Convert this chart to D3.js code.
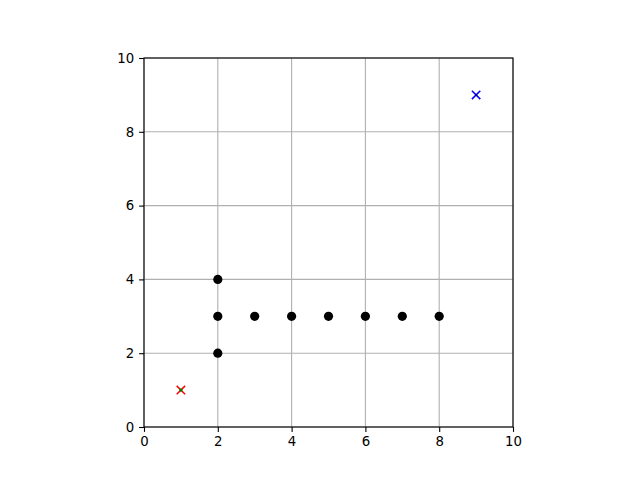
<!DOCTYPE html>
<html><head><meta charset="utf-8">
<script src="https://d3js.org/d3.v7.min.js"></script>
<style>body{margin:0;background:#fff}svg{display:block}</style>
</head><body>
<script>
const ticks = [0, 2, 4, 6, 8, 10];
const dotX = [2, 2, 2, 3, 4, 5, 6, 7, 8];
const dotY = [4, 3, 2, 3, 3, 3, 3, 3, 3];
const startPt = [1, 1];
const goalPt = [9, 9];

const W = 640, H = 480;
const L = 144, R = 513, T = 58, B = 427;
const svg = d3.select("body").append("svg").attr("width", W).attr("height", H);
const x = d3.scaleLinear().domain([0, 10]).range([L, R]);
const y = d3.scaleLinear().domain([0, 10]).range([B, T]);
const font = "DejaVu Sans, sans-serif";

// grid
const g = svg.append("g");
g.selectAll(".gx").data(ticks).enter().append("line")
  .attr("x1", d => x(d)).attr("x2", d => x(d)).attr("y1", T).attr("y2", B)
  .attr("stroke", "#b0b0b0").attr("stroke-width", 1.1);
g.selectAll(".gy").data(ticks).enter().append("line")
  .attr("y1", d => y(d)).attr("y2", d => y(d)).attr("x1", L).attr("x2", R)
  .attr("stroke", "#b0b0b0").attr("stroke-width", 1.1);

// axes
const xa = svg.append("g").attr("transform", `translate(0,${B})`)
  .call(d3.axisBottom(x).tickValues(ticks).tickSize(4.9).tickPadding(4.9).tickFormat(d3.format("d")));
const ya = svg.append("g").attr("transform", `translate(${L},0)`)
  .call(d3.axisLeft(y).tickValues(ticks).tickSize(4.9).tickPadding(4.9).tickFormat(d3.format("d")));
[xa, ya].forEach(a => {
  a.select(".domain").remove();
  a.selectAll("line").attr("stroke", "#000").attr("stroke-width", 1.1);
  a.selectAll("text").attr("font-family", font).attr("font-size", "13.3px").attr("fill", "#000");
});

// frame
svg.append("rect").attr("x", L).attr("y", T).attr("width", R - L).attr("height", B - T)
  .attr("fill", "none").attr("stroke", "#000").attr("stroke-width", 1.1);

// dots
svg.selectAll(".dot").data(dotX.map((d, i) => [d, dotY[i]])).enter().append("circle")
  .attr("cx", d => x(d[0])).attr("cy", d => y(d[1])).attr("r", 4.6).attr("fill", "#000");

function cross(p, color) {
  const cx = x(p[0]), cy = y(p[1]), s = 4.2;
  svg.append("path").attr("d", `M${cx - s},${cy - s}L${cx + s},${cy + s}M${cx - s},${cy + s}L${cx + s},${cy - s}`)
    .attr("stroke", color).attr("stroke-width", 1.5).attr("fill", "none");
}
cross(startPt, "red");
svg.append("rect").attr("x", x(startPt[0]) - 1.5).attr("y", y(startPt[1]) - 1.5).attr("width", 3).attr("height", 3).attr("fill", "green");
cross(goalPt, "blue");
svg.append("rect").attr("x", x(goalPt[0]) - 1).attr("y", y(goalPt[1]) - 1).attr("width", 2).attr("height", 2).attr("fill", "#00008b");
</script>
</body></html>
